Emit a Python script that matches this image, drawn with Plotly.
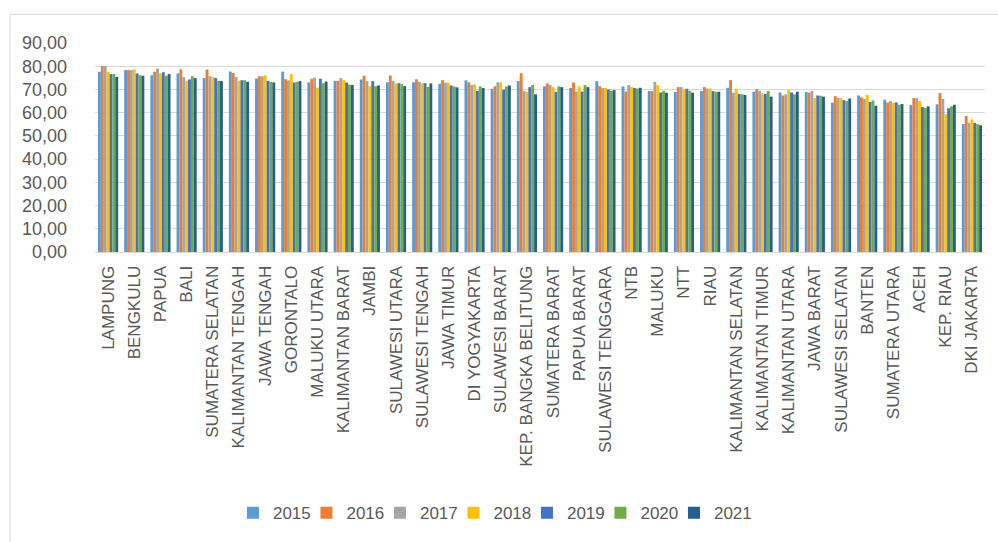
import plotly.graph_objects as go

provinces = ["LAMPUNG", "BENGKULU", "PAPUA", "BALI", "SUMATERA SELATAN", "KALIMANTAN TENGAH",
             "JAWA TENGAH", "GORONTALO", "MALUKU UTARA", "KALIMANTAN BARAT", "JAMBI",
             "SULAWESI UTARA", "SULAWESI TENGAH", "JAWA TIMUR", "DI YOGYAKARTA", "SULAWESI BARAT",
             "KEP. BANGKA BELITUNG", "SUMATERA BARAT", "PAPUA BARAT", "SULAWESI TENGGARA", "NTB",
             "MALUKU", "NTT", "RIAU", "KALIMANTAN SELATAN", "KALIMANTAN TIMUR", "KALIMANTAN UTARA",
             "JAWA BARAT", "SULAWESI SELATAN", "BANTEN", "SUMATERA UTARA", "ACEH", "KEP. RIAU",
             "DKI JAKARTA"]

y2015 = [77.6, 78.3, 76.1, 76.9, 74.9, 77.7, 74.7, 77.7, 73.1, 73.7, 74.3, 73.1, 73.1, 72.4, 73.9, 70.3,
         73.6, 71.3, 70.6, 73.6, 71.3, 69.3, 68.9, 69.3, 70.7, 69.0, 68.7, 68.9, 64.3, 67.4, 65.6, 63.3,
         63.6, 55.1]
y2016 = [80.1, 78.3, 77.6, 78.6, 78.6, 77.1, 75.7, 74.4, 74.6, 73.7, 75.9, 76.0, 74.4, 74.0, 73.1, 71.4,
         77.0, 72.6, 73.0, 71.4, 69.1, 69.3, 71.0, 71.0, 74.0, 70.1, 67.4, 68.6, 67.1, 66.6, 64.4, 66.3,
         68.4, 58.6]
y2017 = [80.1, 78.3, 79.0, 75.3, 75.7, 75.4, 75.7, 73.9, 75.1, 74.9, 73.6, 73.7, 73.3, 72.9, 72.0, 73.1,
         69.4, 71.9, 69.1, 70.6, 71.9, 73.3, 71.0, 70.4, 68.6, 69.4, 67.9, 69.4, 66.4, 65.9, 65.0, 66.3,
         65.9, 55.7]
y2018 = [77.6, 78.7, 76.9, 73.7, 75.4, 73.7, 76.1, 76.6, 70.7, 74.0, 71.4, 72.6, 72.6, 73.0, 72.1, 73.1,
         69.0, 71.0, 71.4, 70.6, 71.0, 71.9, 69.9, 70.4, 70.3, 68.3, 69.7, 66.3, 66.3, 67.6, 64.3, 65.0,
         59.3, 57.1]
y2019 = [76.6, 76.9, 77.4, 74.3, 74.9, 74.0, 73.7, 73.0, 74.6, 73.0, 73.6, 72.7, 72.7, 71.7, 69.4, 69.9,
         71.0, 69.0, 69.1, 70.0, 70.6, 68.7, 70.3, 69.3, 68.1, 68.1, 68.7, 67.4, 65.4, 64.6, 64.4, 62.4,
         61.9, 55.6]
y2020 = [76.6, 76.1, 75.9, 75.7, 73.7, 74.0, 73.3, 73.3, 72.7, 72.1, 71.4, 72.3, 71.1, 71.3, 71.3, 71.3,
         71.9, 71.3, 71.9, 69.4, 70.4, 69.4, 69.4, 69.0, 68.0, 69.3, 67.9, 67.3, 65.0, 65.3, 63.4, 62.1,
         62.7, 55.1]
y2021 = [75.4, 75.9, 76.6, 74.9, 73.6, 73.3, 73.0, 73.6, 73.4, 71.9, 71.7, 71.4, 72.6, 70.9, 70.6, 71.7,
         67.9, 71.0, 71.0, 69.7, 70.7, 68.6, 68.6, 69.0, 67.6, 66.9, 69.0, 66.9, 66.1, 63.0, 63.7, 62.7,
         63.4, 54.6]

years = ["2015", "2016", "2017", "2018", "2019", "2020", "2021"]
series = [y2015, y2016, y2017, y2018, y2019, y2020, y2021]
colors = ["#5B9BD5", "#ED7D31", "#A5A5A5", "#FFC000", "#4472C4", "#70AD47", "#255E91"]
y_ticks = [0, 10, 20, 30, 40, 50, 60, 70, 80, 90]

FONT = "Liberation Sans"
TXT = "#595959"

fig = go.Figure()
for name, vals, col in zip(years, series, colors):
    fig.add_trace(go.Bar(x=provinces, y=vals, name=name, marker=dict(color=col, line=dict(width=0))))
# invisible spacer legend entry so the last legend label is not clipped
fig.add_trace(go.Scatter(x=[None], y=[None], name=" ", mode="lines",
                         line=dict(color="rgba(0,0,0,0)", width=0), hoverinfo="skip"))

fig.update_layout(
    width=998, height=542,
    barmode="group", bargap=0.23, bargroupgap=0,
    separators=",.",
    plot_bgcolor="white", paper_bgcolor="white",
    margin=dict(l=95, r=13, t=43, b=290, autoexpand=False),
    font=dict(family=FONT, color=TXT, size=17),
    legend=dict(orientation="h", x=0.155, xanchor="left", y=-1.25, yanchor="middle",
                font=dict(size=17, color=TXT), entrywidth=28.5, traceorder="normal",
                itemwidth=30, bgcolor="rgba(0,0,0,0)"),
    showlegend=True,
)
fig.update_xaxes(tickangle=-90, tickfont=dict(size=17, color=TXT, family=FONT),
                 showline=True, linecolor="#D9D9D9", linewidth=1, showgrid=False,
                 ticks="", ticklabelstandoff=6)
fig.update_yaxes(range=[0, 90], tickvals=y_ticks, tickformat=".2f",
                 tickfont=dict(size=18, color=TXT, family=FONT),
                 showgrid=True, gridcolor="#D9D9D9", gridwidth=1, zeroline=False,
                 showline=False, ticks="", ticklabelstandoff=27)
fig.add_shape(type="rect", xref="paper", yref="paper", x0=-0.0955, x1=1.02, y0=-1.45, y1=1.137,
              line=dict(color="#D9D9D9", width=1), fillcolor="rgba(0,0,0,0)", layer="below")

fig.write_html("out.html", config={"displayModeBar": False},
               post_script="document.body.style.margin='0';")
